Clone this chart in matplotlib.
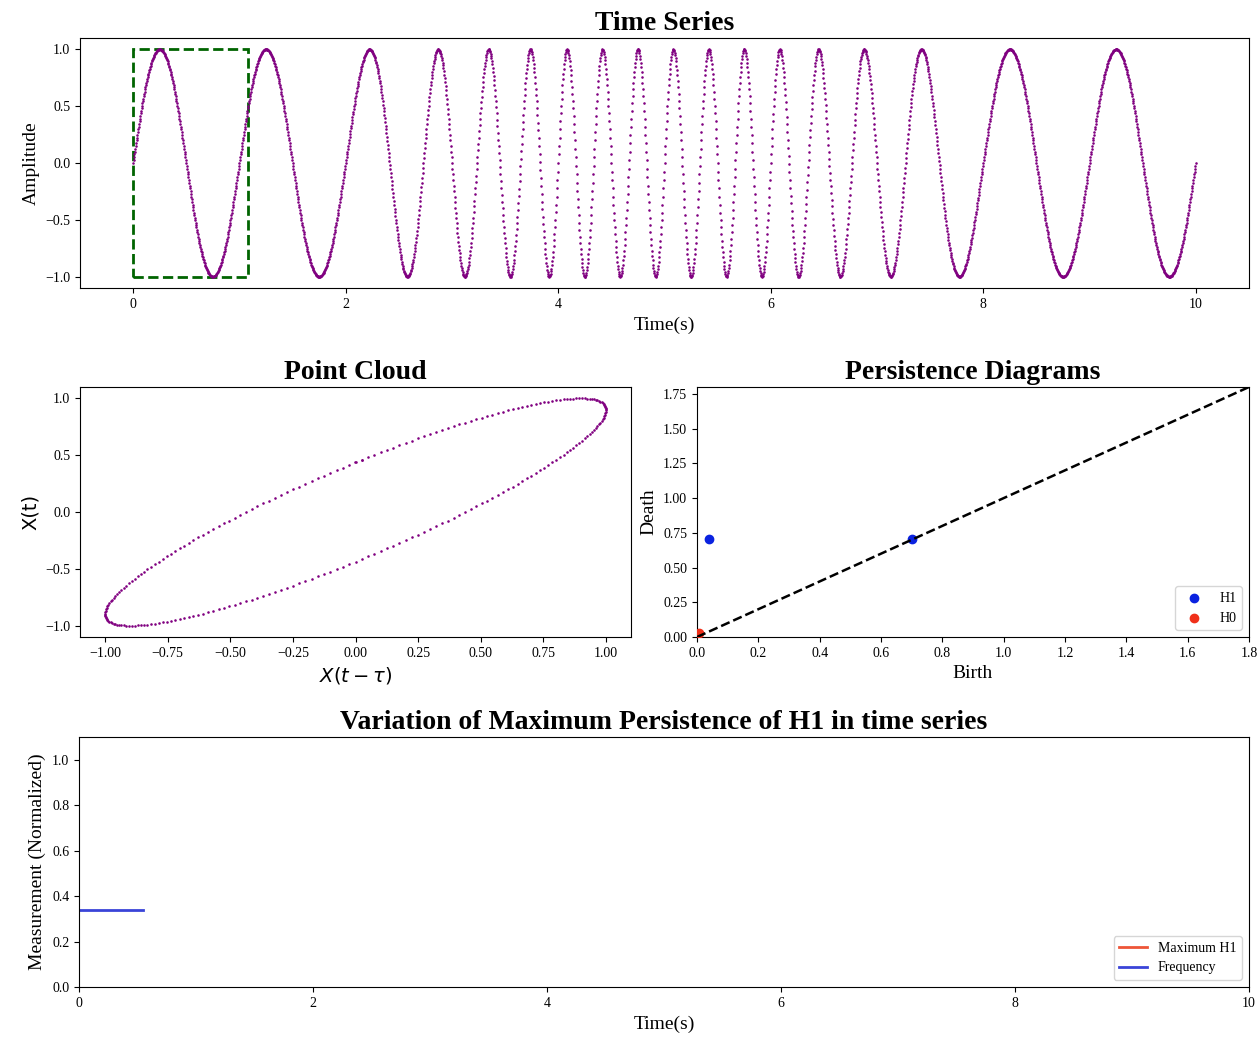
import numpy as np
import matplotlib.pyplot as plt
from matplotlib.patches import Rectangle

plt.rcParams["font.family"] = ["Liberation Serif", "DejaVu Sans"]
plt.rcParams["mathtext.fontset"] = "dejavusans"

# frequency profile of the test signal (Hz), read from the peak spacing
knot_times = [0, 2, 4, 6, 8, 10]
knot_freqs = [1, 1, 3, 3, 1, 1]
sample_rate = 250
window_end = 1.08   # first analysis window (green box)
delay = 0.072       # embedding delay tau (s)

# persistence diagram of the first window
h1_birth = [0.04, 0.70]
h1_death = [0.705, 0.705]
h0_birth = [0.005]
h0_death = [0.03]
diag_max = 1.8

# normalized measurements over time (only first window computed)
freq_times = [0.0, 0.55]
freq_norm = [0.337, 0.337]
maxh1_times = [0.55]
maxh1_norm = [1.0]

# build the signal
t = np.arange(0, 10 + 0.5 / sample_rate, 1 / sample_rate)
f = np.interp(t, knot_times, knot_freqs)
cycles = np.concatenate([[0], np.cumsum((f[1:] + f[:-1]) / 2) / sample_rate])
x = np.sin(2 * np.pi * cycles)

n_win = int(round(window_end * sample_rate))
d = int(round(delay * sample_rate))
win = x[:n_win]
emb_x = win[:-d]
emb_y = win[d:]

W, H = 1258, 1040
fig = plt.figure(figsize=(W / 100, H / 100), dpi=100)


def ax_at(l, t_, r, b):
    return fig.add_axes([l / W, 1 - b / H, (r - l) / W, (b - t_) / H])


title_kw = dict(fontsize=20, fontweight="bold")
label_size = 14
tick_size = 10

# --- time series ---
ax1 = ax_at(80, 38, 1249, 288)
ax1.plot(t, x, ".", color="purple", markersize=1.7)
ax1.add_patch(Rectangle((0, -1), window_end, 2, fill=False, edgecolor="darkgreen",
                        linestyle="--", linewidth=2))
ax1.set_title("Time Series", **title_kw)
ax1.set_xlabel("Time(s)", fontsize=label_size)
ax1.set_ylabel("Amplitude", fontsize=label_size)
ax1.set_xticks([0, 2, 4, 6, 8, 10])
ax1.set_yticks([-1.0, -0.5, 0.0, 0.5, 1.0])
ax1.tick_params(labelsize=tick_size)

# --- point cloud ---
ax2 = ax_at(80, 387, 631, 637)
ax2.plot(emb_x, emb_y, ".", color="purple", markersize=1.7)
ax2.set_title("Point Cloud", **title_kw)
ax2.set_xlabel(r"$X(t-\tau)$", fontsize=label_size)
ax2.set_ylabel("X(t)", fontsize=label_size, family="DejaVu Sans")
ax2.set_xticks(np.arange(-1.0, 1.01, 0.25))
ax2.set_yticks([-1.0, -0.5, 0.0, 0.5, 1.0])
ax2.tick_params(labelsize=tick_size)

# --- persistence diagram ---
ax3 = ax_at(697, 387, 1249, 637)
ax3.scatter(h1_birth, h1_death, color="#0a22e0", label="H1", zorder=3)
ax3.scatter(h0_birth, h0_death, color="#f0301a", label="H0", zorder=3)
ax3.plot([0, diag_max], [0, diag_max], "k--", linewidth=1.8, zorder=4)
ax3.set_xlim(0, diag_max)
ax3.set_ylim(0, diag_max)
ax3.set_xticks(np.arange(0, 1.81, 0.2))
ax3.set_yticks(np.arange(0, 1.76, 0.25))
ax3.set_title("Persistence Diagrams", **title_kw)
ax3.set_xlabel("Birth", fontsize=label_size)
ax3.set_ylabel("Death", fontsize=label_size)
ax3.tick_params(labelsize=tick_size)
ax3.legend(loc="lower right", fontsize=10)

# --- variation over time ---
ax4 = ax_at(79, 737, 1249, 987)
ax4.plot(maxh1_times, maxh1_norm, color="#ee5538", linewidth=2, label="Maximum H1")
ax4.plot(freq_times, freq_norm, color="#3a44d8", linewidth=2, label="Frequency")
ax4.set_xlim(0, 10)
ax4.set_ylim(0, 1.1)
ax4.set_xticks([0, 2, 4, 6, 8, 10])
ax4.set_yticks(np.arange(0, 1.01, 0.2))
ax4.set_title("Variation of Maximum Persistence of H1 in time series", **title_kw)
ax4.set_xlabel("Time(s)", fontsize=label_size)
ax4.set_ylabel("Measurement (Normalized)", fontsize=label_size)
ax4.tick_params(labelsize=tick_size)
ax4.legend(loc="lower right", fontsize=10)

fig.savefig("out.png", dpi=100)
